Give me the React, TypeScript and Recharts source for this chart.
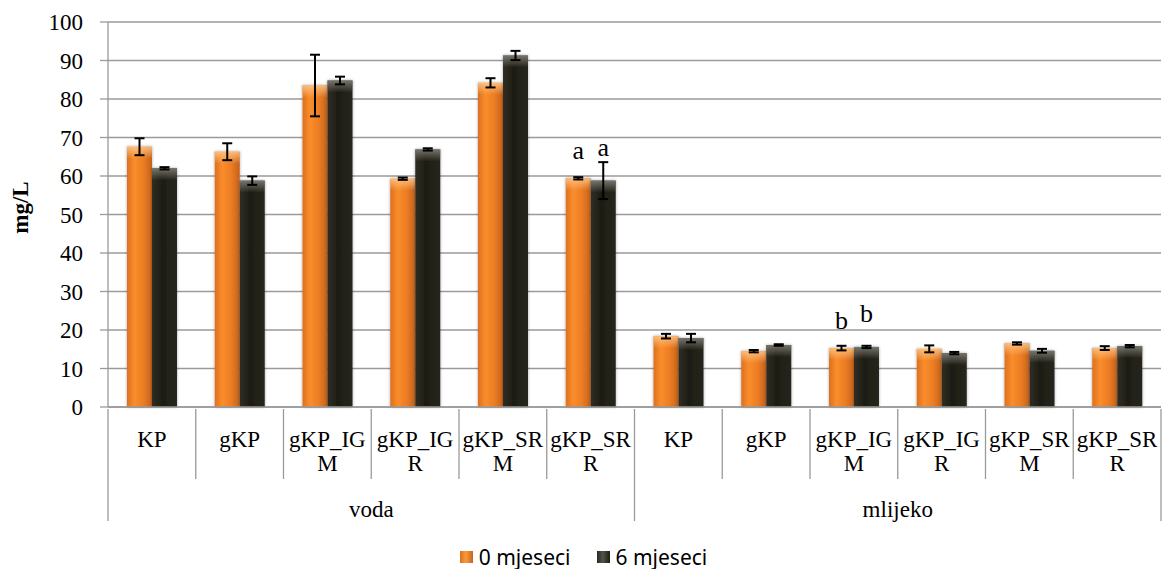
import { Bar, BarChart, CartesianGrid, ErrorBar, LabelList, Legend, XAxis, YAxis } from 'recharts';

const categories = ['KP', 'gKP', 'gKP_IGM', 'gKP_IGR', 'gKP_SRM', 'gKP_SRR', 'KP', 'gKP', 'gKP_IGM', 'gKP_IGR', 'gKP_SRM', 'gKP_SRR'];
const groupOf = ['voda', 'voda', 'voda', 'voda', 'voda', 'voda', 'mlijeko', 'mlijeko', 'mlijeko', 'mlijeko', 'mlijeko', 'mlijeko'];
const month0 = [67.6, 66.3, 83.5, 59.3, 84.2, 59.4, 18.4, 14.5, 15.3, 15.1, 16.5, 15.3];
const month6 = [62.0, 58.8, 84.8, 66.9, 91.3, 58.8, 17.9, 16.1, 15.6, 14.0, 14.6, 15.8];
const err0 = [2.2, 2.2, 8.0, 0.3, 1.2, 0.3, 0.6, 0.3, 0.6, 0.9, 0.3, 0.5];
const err6 = [0.3, 1.1, 1.0, 0.3, 1.2, 4.8, 1.1, 0.2, 0.3, 0.3, 0.5, 0.3];
const letters0 = ['', '', '', '', '', 'a', '', '', 'b', '', '', ''];
const letters6 = ['', '', '', '', '', 'a', '', '', 'b', '', '', ''];
const yTicks = [0, 10, 20, 30, 40, 50, 60, 70, 80, 90, 100];
const seriesNames = ['0 mjeseci', '6 mjeseci'];

const data = categories.map((c, i) => ({
    cat: c,
    m0: month0[i],
    m6: month6[i],
    e0: err0[i],
    e6: err6[i],
    l0: letters0[i],
    l6: letters6[i],
}));

const W = 1162;
const H = 569;
const PLOT_LEFT = 108;
const PLOT_RIGHT = 1161;
const BAND = (PLOT_RIGHT - PLOT_LEFT) / categories.length;
const SERIF = 'Liberation Serif, Times New Roman, serif';
const GRID = '#9a9a9a';

function GlossyBar(props: any) {
    const { x, y, width, height, kind } = props;
    if (!height || height <= 0) return null;
    const cap = Math.min(12, height);
    return (
        <g filter="url(#barShadow)">
            <rect x={x} y={y} width={width} height={height} fill={`url(#${kind}Body)`} />
            <rect x={x} y={y} width={width} height={cap} fill={`url(#${kind}Cap)`} />
        </g>
    );
}

function letterContent(offset: number) {
    return (p: any) => {
        const { x, y, width, value } = p;
        if (!value) return null;
        return (
            <text x={x + width / 2} y={y - offset} textAnchor="middle" style={{ fontFamily: SERIF, fontSize: 26 }} fill="#000">
                {value}
            </text>
        );
    };
}

function ValueTick(props: any) {
    const { x, y, payload } = props;
    return (
        <text x={x} y={y} dy={8} textAnchor="end" style={{ fontFamily: SERIF, fontSize: 23 }} fill="#000">
            {payload.value}
        </text>
    );
}

function CategoryTick(props: any) {
    const { x, y, index, payload } = props;
    const name: string = payload.value;
    // Excel lomi duže nazive nakon šestog znaka
    const line1 = name.length > 6 ? name.slice(0, 6) : name;
    const line2 = name.length > 6 ? name.slice(6) : '';
    const left = x - BAND / 2;
    const startsGroup = index === 0 || groupOf[index] !== groupOf[index - 1];
    const isLast = index === categories.length - 1;
    const txt = { fontFamily: SERIF, fontSize: 23 };
    let groupLabel = null;
    if (startsGroup) {
        let n = 0;
        while (groupOf[index + n] === groupOf[index]) n++;
        groupLabel = (
            <text x={left + (n * BAND) / 2} y={y + 108} textAnchor="middle" style={txt} fill="#000">
                {groupOf[index]}
            </text>
        );
    }
    return (
        <g>
            <line x1={left} y1={y} x2={left} y2={y + (startsGroup ? 112 : 70)} stroke={GRID} strokeWidth={1.3} />
            {isLast && <line x1={x + BAND / 2} y1={y} x2={x + BAND / 2} y2={y + 112} stroke={GRID} strokeWidth={1.3} />}
            <text x={x} y={y + 38} textAnchor="middle" style={txt} fill="#000">
                {line1}
            </text>
            {line2 && (
                <text x={x} y={y + 62} textAnchor="middle" style={txt} fill="#000">
                    {line2}
                </text>
            )}
            {groupLabel}
        </g>
    );
}

function AxisTitle(props: any) {
    const { viewBox } = props;
    const cy = viewBox.y + viewBox.height / 2 - 7;
    return (
        <text x={28} y={cy} transform={`rotate(-90, 28, ${cy})`} textAnchor="middle" style={{ fontFamily: SERIF, fontSize: 23, fontWeight: 'bold' }} fill="#000">
            mg/L
        </text>
    );
}

function LegendContent() {
    const swatch = (bg: string) => (
        <span style={{ display: 'inline-block', width: 13, height: 12, background: bg, marginRight: 6 }} />
    );
    return (
        <div
            style={{
                display: 'flex',
                justifyContent: 'center',
                alignItems: 'center',
                height: 24,
                paddingLeft: 6,
                fontFamily: '"Noto Sans", sans-serif',
                fontSize: 21,
                color: '#000',
            }}
        >
            <span style={{ display: 'flex', alignItems: 'center', marginRight: 26 }}>
                {swatch('linear-gradient(90deg, #d9701f, #fb9a3c 45%, #c9651c)')}
                {seriesNames[0]}
            </span>
            <span style={{ display: 'flex', alignItems: 'center' }}>
                {swatch('linear-gradient(90deg, #2b2a22, #55544a 45%, #1d1c15)')}
                {seriesNames[1]}
            </span>
        </div>
    );
}

export default function App() {
    return (
        <div style={{ position: 'absolute', left: 0, top: 0, width: W, height: H, background: '#fff' }}>
            <BarChart width={W} height={H} data={data} margin={{ top: 22, right: W - PLOT_RIGHT, left: 0, bottom: 0 }} barSize={25} barGap={0}>
                <defs>
                    <linearGradient id="oBody" x1="0" y1="0" x2="1" y2="0">
                        <stop offset="0%" stopColor="#dc701f" />
                        <stop offset="30%" stopColor="#fa8d2b" />
                        <stop offset="65%" stopColor="#ec7d24" />
                        <stop offset="100%" stopColor="#c4621b" />
                    </linearGradient>
                    <linearGradient id="oCap" x1="0" y1="0" x2="0" y2="1">
                        <stop offset="0%" stopColor="#ffc98a" stopOpacity={0.85} />
                        <stop offset="100%" stopColor="#ffc98a" stopOpacity={0} />
                    </linearGradient>
                    <linearGradient id="bBody" x1="0" y1="0" x2="1" y2="0">
                        <stop offset="0%" stopColor="#302e25" />
                        <stop offset="40%" stopColor="#1e1d15" />
                        <stop offset="100%" stopColor="#27251d" />
                    </linearGradient>
                    <linearGradient id="bCap" x1="0" y1="0" x2="0" y2="1">
                        <stop offset="0%" stopColor="#8a897f" stopOpacity={0.8} />
                        <stop offset="100%" stopColor="#8a897f" stopOpacity={0} />
                    </linearGradient>
                    <filter id="barShadow" x="-30%" y="-10%" width="160%" height="120%">
                        <feDropShadow dx="0" dy="0" stdDeviation="1.8" floodColor="#000" floodOpacity="0.35" />
                    </filter>
                </defs>
                <CartesianGrid vertical={false} stroke={GRID} strokeWidth={1.3} />
                <XAxis
                    dataKey="cat"
                    interval={0}
                    height={138}
                    tickSize={0}
                    tickLine={false}
                    axisLine={{ stroke: GRID, strokeWidth: 1.3 }}
                    tick={<CategoryTick />}
                />
                <YAxis
                    domain={[0, 100]}
                    ticks={yTicks}
                    width={PLOT_LEFT}
                    tickSize={8}
                    tickMargin={17}
                    tickLine={{ stroke: GRID, strokeWidth: 1.3 }}
                    axisLine={{ stroke: GRID, strokeWidth: 1.3 }}
                    tick={<ValueTick />}
                    label={<AxisTitle />}
                />
                <Legend verticalAlign="bottom" height={24} content={<LegendContent />} />
                <Bar dataKey="m0" name={seriesNames[0]} isAnimationActive={false} shape={(p: any) => <GlossyBar {...p} kind="o" />}>
                    <ErrorBar dataKey="e0" width={5} strokeWidth={2} stroke="#000" direction="y" />
                    <LabelList dataKey="l0" content={letterContent(19)} />
                </Bar>
                <Bar dataKey="m6" name={seriesNames[1]} isAnimationActive={false} shape={(p: any) => <GlossyBar {...p} kind="b" />}>
                    <ErrorBar dataKey="e6" width={5} strokeWidth={2} stroke="#000" direction="y" />
                    <LabelList dataKey="l6" content={letterContent(25)} />
                </Bar>
            </BarChart>
        </div>
    );
}
